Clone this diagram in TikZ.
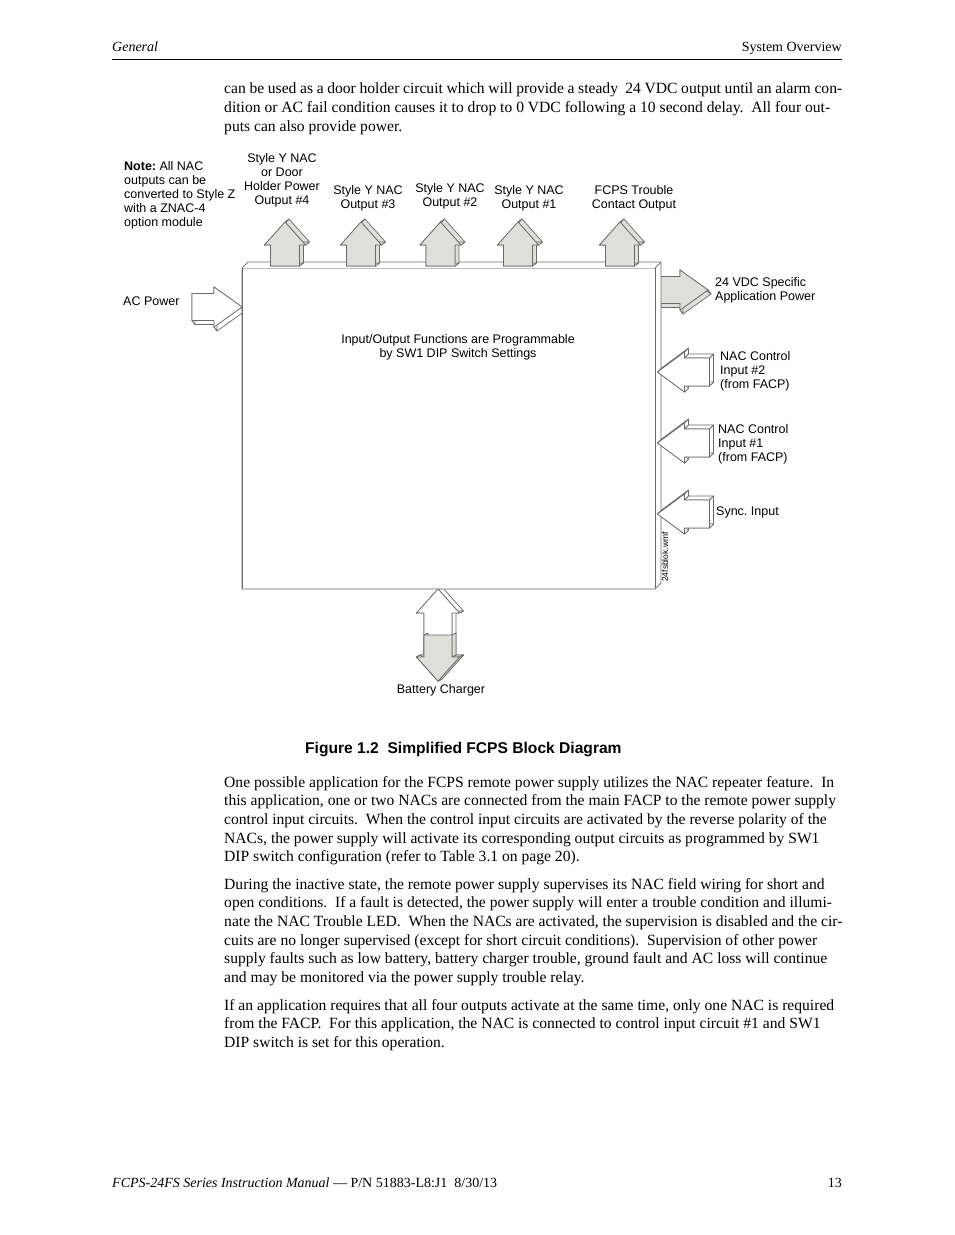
\documentclass[tikz,border=0pt]{standalone}
\usepackage{fontspec}
\setmainfont{Liberation Serif}
\newfontfamily\arial{Liberation Sans}
\definecolor{arrgray}{HTML}{DEDEDA}
\definecolor{edgegray}{HTML}{6A6A6A}
\tikzset{
  edge/.style={draw=edgegray, line width=0.7pt, line join=round},
  grayfill/.style={edge, fill=arrgray},
  whitefill/.style={edge, fill=white},
  lbl/.style={font=\arial\fontsize{12.5}{14}\selectfont, inner sep=0pt, align=center},
  lbll/.style={lbl, align=left, anchor=west},
  body/.style={font=\fontsize{15.6}{18.7}\selectfont, inner sep=0pt, anchor=base west},
  hf/.style={font=\fontsize{14}{17}\selectfont, inner sep=0pt, anchor=base west},
}
\newcommand\extrude[4]{%
  \foreach \xa/\ya [count=\ii, remember=\xa as \xp (initially 0), remember=\ya as \yp (initially 0)] in #4{%
    \ifnum\ii>1 \filldraw[#1] (\xp,\yp) -- (\xa,\ya) -- ++(#2,#3) -- ([shift={(#2,#3)}]\xp,\yp) -- cycle;\fi}%
}
\newcommand\frontface[3]{%
  \filldraw[#1] (#2) \foreach \xa/\ya in #3 { -- (\xa,\ya) } -- cycle;
}
\def\UpL{0/0,20.5/23,14.5/23,14.5/44,-14.5/44,-14.5/23,-20.5/23,0/0}
\def\RightL{0/0,-28/20,-28/13.5,-50/13.5,-50/-13.5,-28/-13.5,-28/-20,0/0}
\def\LeftL{0/0,27/-20,27/-14,52/-14,52/14,27/14,27/20,0/0}
\def\BatL{0/0,21.5/24,14/24,14/68,21.5/68,0/92,-21.5/68,-14/68,-14/24,-21.5/24,0/0}
\def\BatLow{-14/46,-14/68,-21.5/68,0/92,21.5/68,14/68,14/46}
\frenchspacing
\begin{document}
\frenchspacing
\begin{tikzpicture}[x=1pt,y=-1pt]
\useasboundingbox[fill=white] (0,0) rectangle (954,1235);

% header
\node[hf, font=\fontsize{14}{17}\selectfont\itshape] (hdl) at (112,51) {General};
\node[hf, anchor=base east] (hdr) at (842,51) {System Overview};
\draw[line width=0.9pt] (112,59.5) -- (842,59.5);

% paragraph 1
\node[body] (p1a) at (224,93) {\makebox[618pt][s]{can be used as a door holder circuit which will provide a steady~ 24 VDC output until an alarm con-}};
\node[body] (p1b) at (224,112) {dition or AC fail condition causes it to drop to 0 VDC following a 10 second delay.~ All four out-};
\node[body] (p1c) at (224,131) {puts can also provide power.};

% ---------- arrows drawn before the box ----------
\begin{scope}[shift={(242,307)}]
  \extrude{whitefill}{3}{4}{\RightL}
  \frontface{whitefill}{0,0}{\RightL}
\end{scope}
\begin{scope}[shift={(708,290)}]
  \extrude{grayfill}{3}{4}{\RightL}
  \frontface{grayfill}{0,0}{\RightL}
\end{scope}
\begin{scope}[shift={(438,589)}]
  \extrude{whitefill}{4}{-2}{\BatL}
  \frontface{whitefill}{0,0}{\BatL}
  \extrude{grayfill}{4}{-2}{\BatLow}
  \frontface{grayfill}{-14,46}{\BatLow}
\end{scope}

% ---------- main box ----------
\filldraw[edge, fill=white] (242,268) -- (248,262) -- (661,262) -- (661,583) -- (655,589) -- (242,589) -- cycle;
\draw[edge] (655,268) -- (655,589);
\draw[edge] (655,268) -- (661,262);
\draw[black!25, line width=1.8pt] (242.5,268.5) -- (654.5,268.5);
\draw[edge] (242,268) -- (242,589);

% ---------- up arrows ----------
\foreach \cx in {285,361,440.5,518,620}{
  \begin{scope}[shift={(\cx,222)}]
    \extrude{grayfill}{4}{-3}{\UpL}
    \frontface{grayfill}{0,0}{\UpL}
  \end{scope}
}
% ---------- input arrows ----------
\foreach \cy in {372,443,514}{
  \begin{scope}[shift={(657.5,\cy)}]
    \extrude{whitefill}{4}{-4}{\LeftL}
    \frontface{whitefill}{0,0}{\LeftL}
  \end{scope}
}

% ---------- labels ----------
\node[lbll] (note) at (124,195) {\textbf{Note:} All NAC\\outputs can be\\converted to Style Z\\with a ZNAC-4\\option module};
\node[lbl] (o4) at (282,180) {Style Y NAC\\or Door\\Holder Power\\Output \#4};
\node[lbl] (o3) at (368,198) {Style Y NAC\\Output \#3};
\node[lbl] (o2) at (450,196) {Style Y NAC\\Output \#2};
\node[lbl] (o1) at (529,198) {Style Y NAC\\Output \#1};
\node[lbl] (ft) at (634,198) {FCPS Trouble\\Contact Output};
\node[lbll] (ac) at (123,301) {AC Power};
\node[lbll] (vdc) at (715,290) {24 VDC Specific\\Application Power};
\node[lbll] (in2) at (720,371) {NAC Control\\Input \#2\\(from FACP)};
\node[lbll] (in1) at (718,444) {NAC Control\\Input \#1\\(from FACP)};
\node[lbll] (sync) at (716,512) {Sync. Input};
\node[lbl] (func) at (458,347) {Input/Output Functions are Programmable\\by SW1 DIP Switch Settings};
\node[lbl, font=\arial\fontsize{8.5}{9}\selectfont, rotate=90] (wmf) at (665,557) {24fsblok.wmf};
\node[lbl] (bat) at (441,690) {Battery Charger};

% caption
\node[inner sep=0pt, anchor=west, font=\arial\bfseries\fontsize{15.6}{18}\selectfont] (cap) at (305,749) {Figure 1.2~ Simplified FCPS Block Diagram};

% paragraph 2
\node[body] (p2a) at (224,787) {\makebox[610pt][s]{One possible application for the FCPS remote power supply utilizes the NAC repeater feature.~ In}};
\node[body] (p2b) at (224,805.7) {this application, one or two NACs are connected from the main FACP to the remote power supply};
\node[body] (p2c) at (224,824.4) {control input circuits.~ When the control input circuits are activated by the reverse polarity of the};
\node[body] (p2d) at (224,843.1) {NACs, the power supply will activate its corresponding output circuits as programmed by SW1};
\node[body] (p2e) at (224,861.8) {DIP switch configuration (refer to Table 3.1 on page 20).};

% paragraph 3
\node[body] (p3a) at (224,889) {During the inactive state, the remote power supply supervises its NAC field wiring for short and};
\node[body] (p3b) at (224,907.7) {open conditions.~ If a fault is detected, the power supply will enter a trouble condition and illumi-};
\node[body] (p3c) at (224,926.4) {nate the NAC Trouble LED.~ When the NACs are activated, the supervision is disabled and the cir-};
\node[body] (p3d) at (224,945.1) {cuits are no longer supervised (except for short circuit conditions).~ Supervision of other power};
\node[body] (p3e) at (224,963.8) {supply faults such as low battery, battery charger trouble, ground fault and AC loss will continue};
\node[body] (p3f) at (224,982.5) {and may be monitored via the power supply trouble relay.};

% paragraph 4
\node[body] (p4a) at (224,1010) {If an application requires that all four outputs activate at the same time, only one NAC is required};
\node[body] (p4b) at (224,1028.7) {from the FACP.~ For this application, the NAC is connected to control input circuit \#1 and SW1};
\node[body] (p4c) at (224,1047.4) {DIP switch is set for this operation.};

% footer
\node[hf] (ftl) at (112,1187) {\textit{FCPS-24FS Series Instruction Manual} — P/N 51883-L8:J1~ 8/30/13};
\node[hf, anchor=base east] (ftr) at (842,1187) {13};
\end{tikzpicture}
\end{document}
